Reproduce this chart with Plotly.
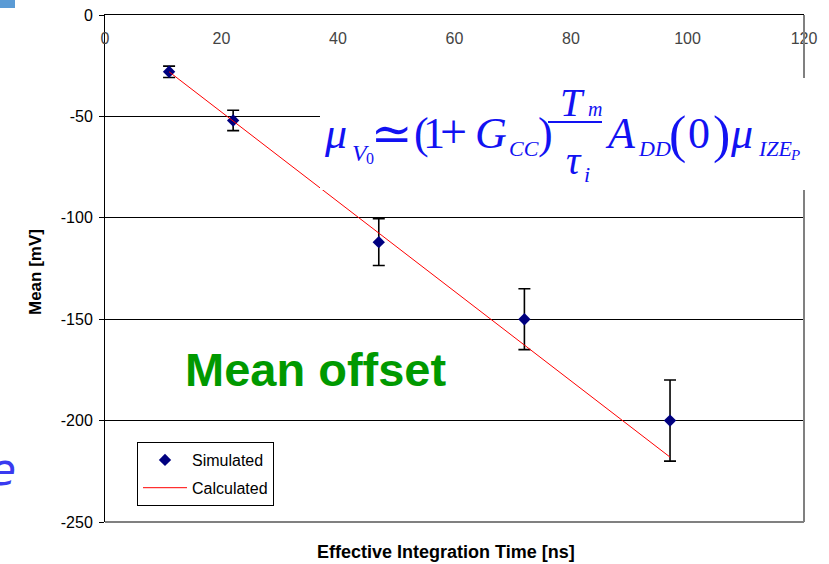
import plotly.graph_objects as go

# ---------------- data ----------------
time_ns = [11, 22, 47, 72, 97]
simulated_mv = [-28, -52, -112, -150, -200]
simulated_err = [2.8, 5, 11.5, 15, 20]
calculated_mv = [-28, -52.3, -107.5, -162.8, -218]

x_ticks = [0, 20, 40, 60, 80, 100, 120]
y_ticks = [0, -50, -100, -150, -200, -250]
y_tick_labels = ["0", "-50", "-100", "-150", "-200", "-250"]

W, H = 829, 564
L, R, T, B = 105, 804, 15, 522


def px(x):
    return (x - L) / (R - L)


def py(y):
    return (B - y) / (B - T)


SANS = "Liberation Sans, Arial, sans-serif"
SERIF = "Liberation Serif, Times New Roman, serif"
FBLUE = "#1212f2"

fig = go.Figure()
fig.add_trace(go.Scatter(
    x=time_ns, y=simulated_mv, mode="markers", name="Simulated",
    marker=dict(symbol="diamond", size=9.5, color="#000080"),
    error_y=dict(type="data", array=simulated_err, visible=True,
                 color="black", thickness=1.6, width=6),
    legendgroup="a",
))
fig.add_trace(go.Scatter(
    x=time_ns, y=calculated_mv, mode="lines", name="Calculated",
    line=dict(color="#ff0000", width=1),
    legendgroup="b",
))

shapes = [
    # plot-area frame (bottom and right, grey)
    dict(type="line", xref="paper", yref="paper", x0=0, x1=1, y0=0, y1=0,
         line=dict(color="#808080", width=2), layer="above"),
    dict(type="line", xref="paper", yref="paper", x0=1, x1=1, y0=0, y1=1,
         line=dict(color="#808080", width=2), layer="above"),
    # white backdrop of the formula picture
    dict(type="rect", xref="paper", yref="paper", x0=px(320), x1=px(835),
         y0=py(190), y1=py(78), fillcolor="white", line=dict(width=0),
         layer="above"),
    # fraction bar
    dict(type="line", xref="paper", yref="paper", x0=px(548), x1=px(602),
         y0=py(122), y1=py(122), line=dict(color=FBLUE, width=2), layer="above"),
    # slide decoration top-left
    dict(type="rect", xref="paper", yref="paper", x0=px(0), x1=px(15),
         y0=py(8), y1=py(-5), fillcolor="#5b9bd5", line=dict(width=0),
         layer="above"),
]

annotations = []


def glyph(text, left, base, size, italic=True, family=SERIF, color=FBLUE,
          weight="normal", anchor="left"):
    annotations.append(dict(
        text=text, xref="paper", yref="paper", x=px(left),
        y=py(base - 0.34 * size), xanchor=anchor, yanchor="middle",
        showarrow=False, borderpad=0,
        font=dict(family=family, size=size, color=color,
                  style="italic" if italic else "normal", weight=weight),
    ))


# formula  mu_V0 ~= (1+G_CC) T_m/tau_i A_DD(0) mu_IZE_P
glyph("μ", 323, 148, 44)
glyph("V", 351, 161, 24)
glyph("0", 365, 164, 16, italic=False)
glyph("≃", 392, 151, 50, italic=False, family="DejaVu Serif", anchor="center")
glyph("(", 413, 148, 44, italic=False)
glyph("1", 422, 148, 44, italic=False)
glyph("+", 439, 148, 48, italic=False)
glyph("G", 474, 148, 44)
glyph("CC", 508, 156, 22)
glyph(")", 537, 148, 44, italic=False)
glyph("T", 559, 116, 40)
glyph("m", 587, 116, 20)
glyph("τ", 565, 174, 40)
glyph("i", 583, 182, 22)
glyph("A", 604, 148, 44)
glyph("DD", 637, 156, 22)
glyph("(", 668, 153, 52, italic=False)
glyph("0", 687, 148, 44, italic=False)
glyph(")", 712, 153, 52, italic=False)
glyph("μ", 729, 148, 44)
glyph("IZE", 757, 156, 22)
glyph("P", 789, 160, 15)

# big green label
glyph("Mean offset", 184, 385, 47, italic=False, family=SANS,
      color="#009900", weight="bold")
# slide text fragment at the left edge
glyph("e", 17, 484, 44, italic=True, family="DejaVu Sans", color="#3a3af0",
      anchor="right")

# axis titles
annotations.append(dict(
    text="Effective Integration Time [ns]", xref="paper", yref="paper",
    x=px(446), y=py(552), xanchor="center", yanchor="middle", showarrow=False,
    font=dict(family=SANS, size=18, color="black", weight="bold")))
annotations.append(dict(
    text="Mean [mV]", xref="paper", yref="paper", textangle=-90,
    x=px(36), y=py(272), xanchor="center", yanchor="middle", showarrow=False,
    font=dict(family=SANS, size=17, color="black", weight="bold")))

fig.update_layout(
    width=W, height=H,
    margin=dict(l=L, r=W - R, t=T, b=H - B, autoexpand=False),
    paper_bgcolor="white", plot_bgcolor="white",
    font=dict(family=SANS, size=16, color="black"),
    showlegend=True,
    legend=dict(x=px(137), y=py(442), xanchor="left", yanchor="top",
                bgcolor="white", bordercolor="black", borderwidth=1,
                font=dict(size=16, family=SANS), itemwidth=44,
                tracegroupgap=4, traceorder="grouped"),
    xaxis=dict(range=[0, 120], tickvals=x_ticks, side="top",
               showline=True, linecolor="black", linewidth=1,
               ticks="", ticklabelposition="inside", ticklabeloverflow="allow",
               ticklabelstandoff=18,
               showgrid=False, zeroline=False,
               tickfont=dict(size=16, family=SANS)),
    yaxis=dict(range=[-250, 0], tickvals=y_ticks, ticktext=y_tick_labels,
               showline=True, linecolor="black", linewidth=1,
               ticks="outside", ticklen=5, tickcolor="black",
               ticklabelstandoff=3,
               showgrid=True, gridcolor="black", gridwidth=1,
               zeroline=False, tickfont=dict(size=16, family=SANS)),
    shapes=shapes, annotations=annotations,
)

fig.write_html("out.html")
